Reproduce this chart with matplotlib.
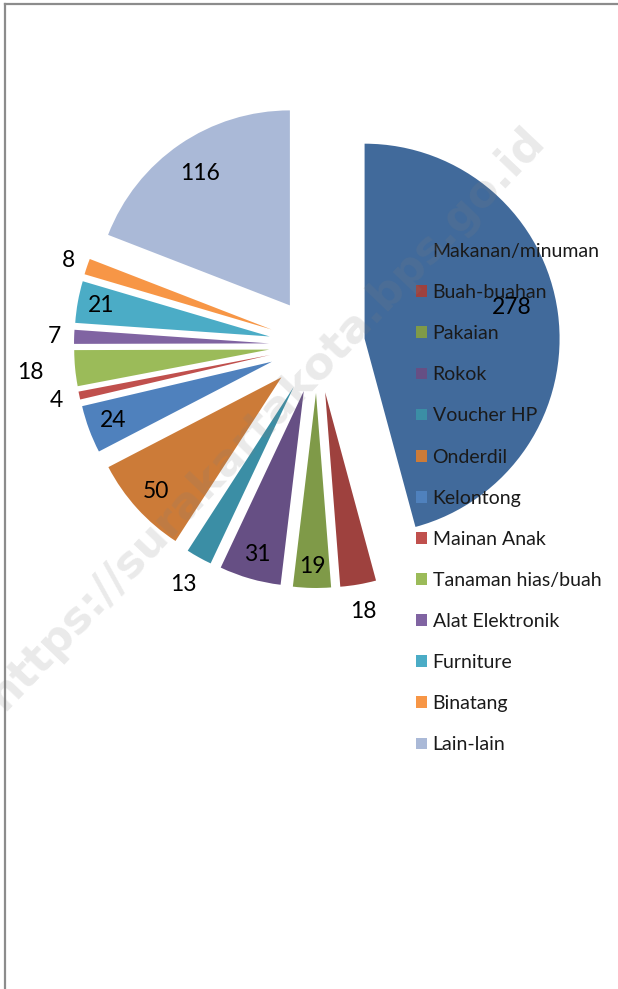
import math
import matplotlib
matplotlib.use("Agg")
import matplotlib.pyplot as plt
from matplotlib.patches import Patch
from matplotlib.lines import Line2D

# Data
kategori = ["Makanan/minuman", "Buah-buahan", "Pakaian", "Rokok", "Voucher HP",
            "Onderdil", "Kelontong", "Mainan Anak", "Tanaman hias/buah",
            "Alat Elektronik", "Furniture", "Binatang", "Lain-lain"]
jumlah = [278, 18, 19, 31, 13, 50, 24, 4, 18, 7, 21, 8, 116]

warna = ["#416A9B", "#9E413E", "#7F9A48", "#664F84", "#3B8EA5", "#CC7B38",
         "#4F81BD", "#C0504D", "#9BBB59", "#8064A2", "#4BACC6", "#F79646",
         "#AAB9D7"]
# jarak label dari pusat irisan (kelipatan jari-jari), ala "best fit" Excel
jarak_label = [0.77, 1.14, 0.89, 0.87, 1.16, 0.87, 0.87, 1.12, 1.23, 1.10,
               0.88, 1.10, 0.82]
geser_sudut = [4.5, 0, 0, 0, 0, 0, 0, 0, 0, 0, 0, 0, 0]

W, H = 618, 989
fig = plt.figure(figsize=(W / 100, H / 100), dpi=100)
ax = fig.add_axes([0, 0, 1, 1])

R = 195
pusat = (317, H - 345)
wedges, _ = ax.pie(jumlah, colors=warna, radius=R, center=pusat,
                   explode=[48] * len(jumlah), startangle=90,
                   counterclock=False, frame=True)
ax.set_xlim(0, W)
ax.set_ylim(0, H)
ax.set_aspect("auto")
ax.axis("off")

font = ["Lato", "DejaVu Sans"]
for w, v, d, g in zip(wedges, jumlah, jarak_label, geser_sudut):
    mid = math.radians((w.theta1 + w.theta2) / 2 + g)
    cx, cy = w.center
    ax.text(cx + d * R * math.cos(mid), cy + d * R * math.sin(mid), str(v),
            ha="center", va="center", fontsize=16.5, family=font,
            color="black", zorder=5)

handles = [Patch(facecolor=c, edgecolor="none", label=k)
           for c, k in zip(warna, kategori)]
leg = ax.legend(handles=handles, loc="upper left",
                bbox_to_anchor=(416 / W, 1 - 243 / H),
                bbox_transform=fig.transFigure, frameon=False,
                prop={"family": font, "size": 14},
                handlelength=0.55, handleheight=0.55, handletextpad=0.3,
                labelspacing=1.24, borderpad=0, borderaxespad=0)
for t in leg.get_texts():
    t.set_color("#1a1a1a")
leg.set_zorder(4)

# watermark
fig.text(266 / W, 1 - 418 / H, "https://surakartakota.bps.go.id",
         rotation=46.4, ha="center", va="center", fontsize=32,
         fontweight="bold", family=["DejaVu Sans"], color="gray",
         alpha=0.17, zorder=10)

# bingkai
fig.add_artist(Line2D([5 / W, 1], [1 - 4 / H, 1 - 4 / H],
                      transform=fig.transFigure, color="#8c8c8c", lw=1.6))
fig.add_artist(Line2D([5 / W, 5 / W], [0, 1 - 4 / H],
                      transform=fig.transFigure, color="#8c8c8c", lw=1.6))

fig.savefig("out.png", dpi=100)
